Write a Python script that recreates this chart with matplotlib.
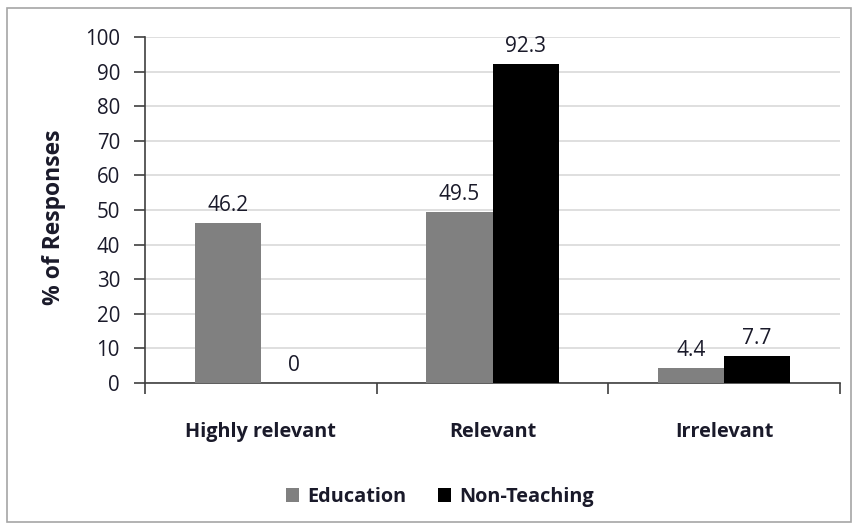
import matplotlib
matplotlib.use("Agg")
import matplotlib.pyplot as plt
from matplotlib.patches import Rectangle
import numpy as np

categories = ["Highly relevant", "Relevant", "Irrelevant"]
education = [46.2, 49.5, 4.4]
non_teaching = [0, 92.3, 7.7]
series_names = ["Education", "Non-Teaching"]
yticks = [0, 10, 20, 30, 40, 50, 60, 70, 80, 90, 100]

plt.rcParams['font.family'] = ['Open Sans', 'DejaVu Sans']

W, H = 860, 532
fig = plt.figure(figsize=(W/100, H/100), dpi=100)
fig.patches.append(Rectangle((7/W, 1 - 522/H), (851-7)/W, (522-8)/H,
                             transform=fig.transFigure, fill=False,
                             edgecolor='#a6a6a6', linewidth=1.2))

left, right, top, bottom = 145, 840, 37, 383
ax = fig.add_axes([left/W, 1 - bottom/H, (right-left)/W, (bottom-top)/H])

x = np.arange(len(categories))
bw = 0.285
b1 = ax.bar(x - bw/2, education, bw, color='#808080', label=series_names[0], zorder=3)
b2 = ax.bar(x + bw/2, non_teaching, bw, color='#000000', label=series_names[1], zorder=3)

txtc = '#1a1a2a'
for bars, vals in ((b1, education), (b2, non_teaching)):
    for r, v in zip(bars, vals):
        lab = f"{v:g}" if v != 0 else "0"
        ax.text(r.get_x() + r.get_width()/2, v + 2.0, lab, ha='center', va='bottom',
                fontsize=15, color=txtc)

ax.set_xlim(-0.5, 2.5)
ax.set_ylim(0, 100)
ax.set_yticks(yticks)
ax.set_yticklabels([str(t) for t in yticks], fontsize=14.8, color=txtc)
ax.yaxis.grid(True, color='#d9d9d9', linewidth=1.2, zorder=0)
ax.set_axisbelow(True)

ax.set_xticks([-0.5, 0.5, 1.5, 2.5])
ax.set_xticklabels([])
ax.tick_params(axis='x', direction='out', length=8, color='#404040', width=1.2)
ax.tick_params(axis='y', direction='out', length=8, color='#404040', width=1.2, pad=10)
for c, name in zip(x, categories):
    ax.text(c, -14.3, name, ha='center', va='center', fontsize=14.3, fontweight='bold',
            color=txtc, transform=ax.transData)

for s in ['top', 'right']:
    ax.spines[s].set_visible(False)
ax.spines['left'].set_color('#404040')
ax.spines['bottom'].set_color('#404040')
ax.spines['left'].set_linewidth(1.2)
ax.spines['bottom'].set_linewidth(1.2)

fig.text(54/W, 1 - 217/H, "% of Responses", rotation=90, ha='center', va='center',
         fontsize=16.5, fontweight='bold', color=txtc)

leg = fig.legend(handles=[b1, b2], labels=series_names, loc='center',
                 bbox_to_anchor=(440/W, 1 - 497/H), ncol=2, frameon=False,
                 handlelength=0.65, handleheight=0.65, handletextpad=0.4,
                 columnspacing=1.6, prop={'weight': 'bold', 'size': 14.3})
for t in leg.get_texts():
    t.set_color(txtc)

fig.savefig("out.png", dpi=100)
